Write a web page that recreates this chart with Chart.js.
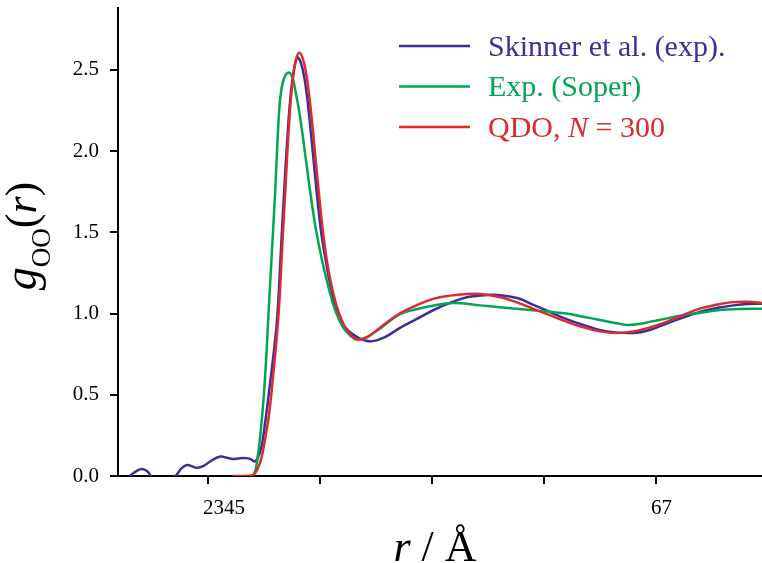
<!DOCTYPE html>
<html>
<head>
<meta charset="utf-8">
<script src="https://cdn.jsdelivr.net/npm/chart.js@4"></script>
<style>
  html, body { margin: 0; padding: 0; background: #fff; overflow: hidden; }
  canvas { display: block; }
</style>
</head>
<body>
<canvas id="gofr" width="762" height="563"></canvas>
<script>
// Oxygen-oxygen radial distribution function g_OO(r)
const skinnerR = [1.30, 1.36, 1.41, 1.46, 1.49, 1.55, 1.65, 1.71, 1.76, 1.81, 1.86, 1.90, 1.96, 2.03, 2.11, 2.17, 2.22, 2.27, 2.33, 2.38, 2.42, 2.47, 2.51, 2.55, 2.59, 2.62, 2.65, 2.68, 2.71, 2.74, 2.77, 2.80, 2.83, 2.86, 2.89, 2.92, 2.95, 2.98, 3.01, 3.05, 3.09, 3.15, 3.23, 3.33, 3.40, 3.47, 3.58, 3.71, 3.86, 4.01, 4.16, 4.31, 4.43, 4.55, 4.76, 4.90, 5.05, 5.20, 5.35, 5.56, 5.80, 5.95, 6.10, 6.24, 6.39, 6.55, 6.69, 6.82, 6.95];
const skinnerG = [0, 0.03, 0.043, 0.028, 0, -0.03, -0.03, 0, 0.045, 0.068, 0.058, 0.05, 0.062, 0.095, 0.12, 0.112, 0.105, 0.108, 0.11, 0.104, 0.09, 0.16, 0.33, 0.55, 0.78, 1.0, 1.38, 1.76, 2.10, 2.36, 2.51, 2.575, 2.54, 2.45, 2.30, 2.10, 1.89, 1.68, 1.50, 1.33, 1.18, 1.02, 0.91, 0.855, 0.835, 0.83, 0.855, 0.91, 0.965, 1.02, 1.065, 1.10, 1.11, 1.115, 1.095, 1.055, 1.01, 0.965, 0.93, 0.89, 0.88, 0.90, 0.94, 0.975, 1.01, 1.035, 1.05, 1.058, 1.06];

const soperR = [2.33, 2.38, 2.41, 2.44, 2.48, 2.51, 2.54, 2.57, 2.60, 2.625, 2.645, 2.67, 2.70, 2.73, 2.755, 2.78, 2.81, 2.84, 2.875, 2.91, 2.96, 3.02, 3.08, 3.13, 3.20, 3.26, 3.33, 3.42, 3.54, 3.71, 3.85, 3.98, 4.19, 4.43, 4.65, 4.90, 5.20, 5.35, 5.50, 5.65, 5.74, 5.85, 5.95, 6.10, 6.24, 6.40, 6.55, 6.75, 6.95];
const soperG = [0, 0, 0.01, 0.10, 0.345, 0.62, 1.0, 1.38, 1.76, 2.13, 2.33, 2.43, 2.475, 2.48, 2.45, 2.37, 2.26, 2.12, 1.94, 1.76, 1.53, 1.32, 1.15, 1.03, 0.92, 0.87, 0.84, 0.855, 0.91, 0.995, 1.025, 1.045, 1.065, 1.05, 1.035, 1.02, 1.0, 0.98, 0.96, 0.94, 0.93, 0.935, 0.95, 0.97, 0.99, 1.005, 1.02, 1.028, 1.03];

const qdoR = [2.22, 2.35, 2.40, 2.44, 2.48, 2.52, 2.545, 2.59, 2.63, 2.66, 2.69, 2.72, 2.75, 2.78, 2.815, 2.85, 2.88, 2.91, 2.94, 2.97, 3.00, 3.03, 3.06, 3.10, 3.16, 3.22, 3.28, 3.33, 3.42, 3.54, 3.71, 3.86, 4.01, 4.16, 4.31, 4.43, 4.61, 4.75, 4.90, 5.05, 5.20, 5.35, 5.50, 5.65, 5.80, 5.95, 6.10, 6.24, 6.39, 6.55, 6.69, 6.82, 6.95];
const qdoG = [0, 0, 0.005, 0.04, 0.12, 0.27, 0.38, 0.68, 1.0, 1.38, 1.76, 2.13, 2.40, 2.55, 2.605, 2.56, 2.46, 2.30, 2.10, 1.88, 1.67, 1.48, 1.33, 1.18, 1.02, 0.92, 0.865, 0.84, 0.855, 0.915, 1.0, 1.05, 1.09, 1.11, 1.12, 1.12, 1.10, 1.07, 1.03, 0.99, 0.95, 0.915, 0.89, 0.88, 0.89, 0.915, 0.95, 0.99, 1.03, 1.055, 1.07, 1.072, 1.065];

// legend text: odd pieces are set in italics
const skinnerLabel = ['Skinner et al. (exp).'];
const soperLabel = ['Exp. (Soper)'];
const qdoLabel = ['QDO, ', 'N', ' = 300'];

const xTickValues = [2, 3, 4, 5, 6];
const xTickLabels = ['2345', '', '', '', '67'];
const yTickValues = [0, 0.5, 1.0, 1.5, 2.0, 2.5];

const serif = '"Liberation Serif", "Times New Roman", serif';
const toPoints = (xs, ys) => xs.map((x, i) => ({ x: x, y: ys[i] }));

// draw a row of text pieces: [text, size, italic, dy]
function drawRuns(ctx, runs, x, y) {
  let cx = x;
  runs.forEach(function (run) {
    ctx.font = (run[2] ? 'italic ' : '') + run[1] + 'px ' + serif;
    ctx.fillText(run[0], cx, y + (run[3] || 0));
    cx += ctx.measureText(run[0]).width;
  });
}
function runsWidth(ctx, runs) {
  let w = 0;
  runs.forEach(function (run) {
    ctx.font = (run[2] ? 'italic ' : '') + run[1] + 'px ' + serif;
    w += ctx.measureText(run[0]).width;
  });
  return w;
}

const decorations = {
  id: 'decorations',
  beforeDraw(chart) {
    const ctx = chart.ctx;
    ctx.save();
    ctx.fillStyle = '#fff';
    ctx.fillRect(0, 0, chart.width, chart.height);
    ctx.restore();
  },
  afterDraw(chart) {
    const ctx = chart.ctx;
    ctx.save();
    ctx.textBaseline = 'alphabetic';
    ctx.textAlign = 'left';

    // legend
    chart.data.datasets.forEach(function (ds, i) {
      const y = 46 + i * 40.5;
      ctx.strokeStyle = ds.borderColor;
      ctx.lineWidth = 2.5;
      ctx.beginPath();
      ctx.moveTo(399, y);
      ctx.lineTo(470, y);
      ctx.stroke();
      ctx.fillStyle = ds.borderColor;
      const runs = ds.pieces.map((p, k) => [p, 30, k % 2 === 1, 0]);
      drawRuns(ctx, runs, 488, y + 9.5);
    });

    // axis titles
    ctx.fillStyle = '#000';
    const xRuns = [['r', 44, true], [' / ', 44, false], ['Å', 44, false]];
    drawRuns(ctx, xRuns, 435 - runsWidth(ctx, xRuns) / 2, 561);

    const yRuns = [['g', 46, true], ['OO', 27, false, 14], ['(', 44, false], ['r', 44, true], [')', 44, false]];
    ctx.translate(36, 236);
    ctx.rotate(-Math.PI / 2);
    drawRuns(ctx, yRuns, -runsWidth(ctx, yRuns) / 2, 0);
    ctx.restore();
  }
};

const ctx = document.getElementById('gofr').getContext('2d');
const chart = new Chart(ctx, {
  type: 'line',
  data: {
    datasets: [
      {
        label: skinnerLabel.join(''),
        pieces: skinnerLabel,
        data: toPoints(skinnerR, skinnerG),
        borderColor: '#3d2f97',
        order: 2
      },
      {
        label: soperLabel.join(''),
        pieces: soperLabel,
        data: toPoints(soperR, soperG),
        borderColor: '#00a651',
        order: 1
      },
      {
        label: qdoLabel.join(''),
        pieces: qdoLabel,
        data: toPoints(qdoR, qdoG),
        borderColor: '#dc2a2e',
        order: 0
      }
    ]
  },
  options: {
    responsive: false,
    animation: false,
    devicePixelRatio: 1,
    layout: { padding: { top: 8, right: 0, bottom: 0, left: 0 } },
    elements: {
      point: { radius: 0 },
      line: { borderWidth: 2.5, tension: 0.4, fill: false }
    },
    plugins: {
      legend: { display: false },
      tooltip: { enabled: false }
    },
    scales: {
      x: {
        type: 'linear',
        min: 1.196,
        max: 6.946,
        afterBuildTicks: function (scale) {
          scale.ticks = xTickValues.map(v => ({ value: v }));
        },
        afterFit: function (scale) {
          scale.height = 87;
          scale.paddingLeft = 0;
          scale.paddingRight = 0;
        },
        ticks: {
          autoSkip: false,
          maxRotation: 0,
          align: 'start',
          labelOffset: -5,
          padding: 12,
          color: '#000',
          font: { family: serif, size: 21 },
          callback: (value, index) => xTickLabels[index]
        },
        grid: { drawOnChartArea: false, drawTicks: true, tickLength: 8, color: '#000', lineWidth: 2 },
        border: { color: '#000', width: 2 }
      },
      y: {
        min: 0,
        max: 2.88,
        afterBuildTicks: function (scale) {
          scale.ticks = yTickValues.map(v => ({ value: v }));
        },
        afterFit: function (scale) {
          scale.width = 118;
          scale.paddingTop = 0;
          scale.paddingBottom = 0;
        },
        ticks: {
          padding: 11,
          color: '#000',
          font: { family: serif, size: 21 },
          callback: value => value.toFixed(1)
        },
        grid: { drawOnChartArea: false, drawTicks: true, tickLength: 8, color: '#000', lineWidth: 2 },
        border: { color: '#000', width: 2 }
      }
    }
  },
  plugins: [decorations]
});
</script>
</body>
</html>
